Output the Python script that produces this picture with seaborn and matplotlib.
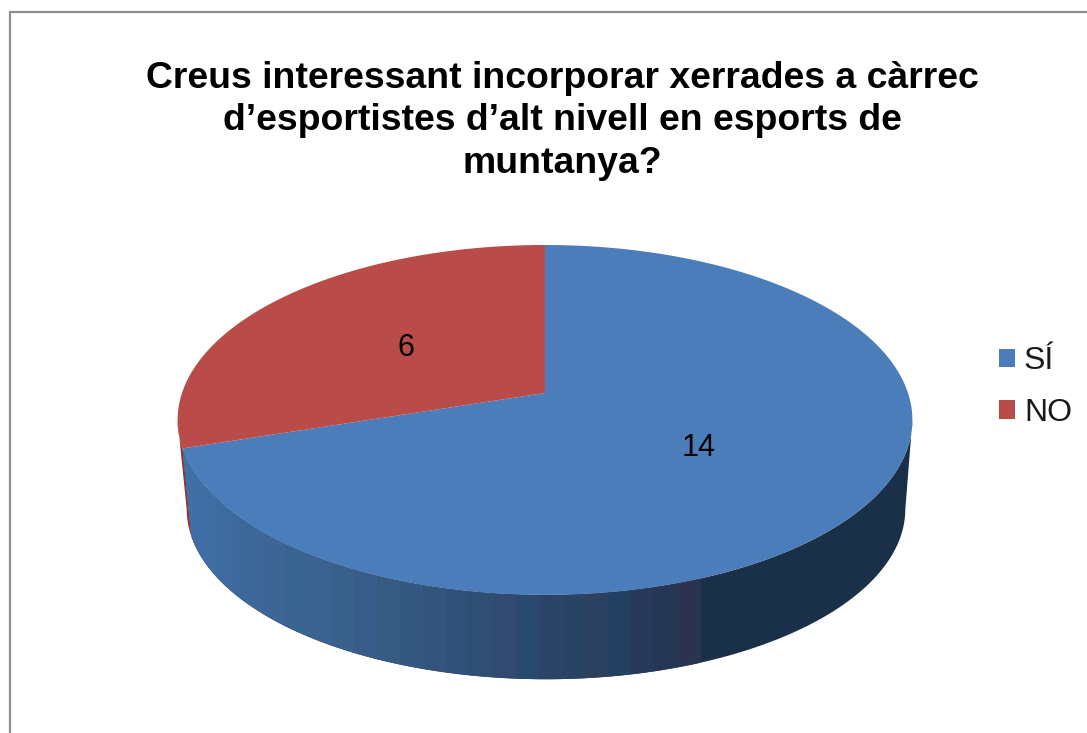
import numpy as np
import matplotlib
matplotlib.use("Agg")
import matplotlib.pyplot as plt
import matplotlib.transforms as mtransforms
from matplotlib.patches import Patch, Polygon
from matplotlib.path import Path
import seaborn as sns

labels = ["SÍ", "NO"]
values = [14, 6]
value_labels = ["14", "6"]
title = "Creus interessant incorporar xerrades a càrrec\nd’esportistes d’alt nivell en esports de\nmuntanya?"

colors = ["#4a7dba", "#b94c49"]
red_wall = "#8e3634"
wall_dark = "#1a2f48"
wall_bands = ["#3f70a6", "#3e6ea3", "#3d6b9e", "#3c6899", "#3d6596", "#396391", "#3b6290", "#38608a",
              "#395b8a", "#365a82", "#34587f", "#33557b", "#2f5178", "#2e4e72", "#324a70", "#274a6e",
              "#2a4568", "#274464", "#2c4060", "#234060", "#25395a", "#263655", "#2a3450"]

sns.set_theme(style="white")
plt.rcParams["font.family"] = ["Liberation Sans", "DejaVu Sans"]


class Tilt(mtransforms.Transform):
    # projects the flat unit pie onto the tilted disc, in pixels
    input_dims = 2
    output_dims = 2
    is_separable = False
    has_inverse = False

    def __init__(self, cx, cy, rx, ry, k=0.154):
        super().__init__()
        self.cx, self.cy, self.rx, self.ry, self.k = cx, cy, rx, ry, k

    def transform_non_affine(self, xy):
        xy = np.asarray(xy, dtype=float)
        w = 1 + self.k * xy[:, 1]
        return np.column_stack([self.cx + self.rx * xy[:, 0] / w,
                                self.cy - self.ry * xy[:, 1] / w])

    def transform_path_non_affine(self, path):
        # flatten the arcs first, bezier handles do not survive the projection
        poly = path.transformed(mtransforms.Affine2D().scale(2000)).to_polygons()[0] / 2000
        return Path(self.transform_non_affine(poly))


top = Tilt(545, 393, 363, 170.8)
bottom = Tilt(546, 483, 355, 166)

fig = plt.figure(figsize=(10.87, 7.33), dpi=100)
ax = fig.add_axes([0, 0, 1, 1])

wedges, _ = ax.pie(values, colors=colors, startangle=90, counterclock=False, radius=1,
                   wedgeprops={"linewidth": 0, "zorder": 5})
ax.set_aspect("auto")
ax.set_xlim(0, 1087)
ax.set_ylim(733, 0)
for w in wedges:
    w.set_transform(top + ax.transData)
    w.set_clip_on(False)


def wall_outline(t1, t2):
    th = np.radians(np.linspace(t1, t2, 300))
    ring = np.column_stack([np.cos(th), np.sin(th)])
    return np.vstack([top.transform_non_affine(ring), bottom.transform_non_affine(ring)[::-1]])


# side wall, vertical colour bands clipped to the wall outline
split = 90 - 360 * values[0] / sum(values)

red_poly = Polygon(wall_outline(189, split + 360), closed=True, facecolor=red_wall, edgecolor="none", zorder=2)
ax.add_patch(red_poly)

blue_poly = Polygon(wall_outline(split, -9), closed=True, facecolor=wall_dark, edgecolor="none", zorder=3)
ax.add_patch(blue_poly)
edges = np.linspace(170, 700, len(wall_bands) + 1)
for i, c in enumerate(wall_bands):
    span = ax.axvspan(edges[i], edges[i + 1] + 0.5, color=c, lw=0, zorder=3.1)
    span.set_clip_path(blue_poly)

# frame of the chart area, runs off the picture right and bottom
ax.plot([10, 10, 1100], [740, 12, 12], color="#8c8c8c", lw=1.6, zorder=1, clip_on=True)

ax.text(699, 448, value_labels[0], fontsize=22, color="black", ha="center", va="center", zorder=6)
ax.text(406, 348, value_labels[1], fontsize=22, color="black", ha="center", va="center", zorder=6)

fig.text(0.5175, 1 - 121 / 733, title, fontsize=26.9, fontweight="bold", color="black",
         ha="center", va="center", linespacing=1.28)

handles = [Patch(facecolor=c, edgecolor="none") for c in colors]
ax.legend(handles, labels, loc="center left", bbox_to_anchor=(999 / 1087, 1 - 387 / 733),
          bbox_transform=fig.transFigure, frameon=False, fontsize=23, handlelength=0.5,
          handleheight=0.5, handletextpad=0.28, labelspacing=0.68, borderpad=0, borderaxespad=0,
          labelcolor="#1a1a1a")

fig.savefig("out.png", dpi=100)
plt.close(fig)
